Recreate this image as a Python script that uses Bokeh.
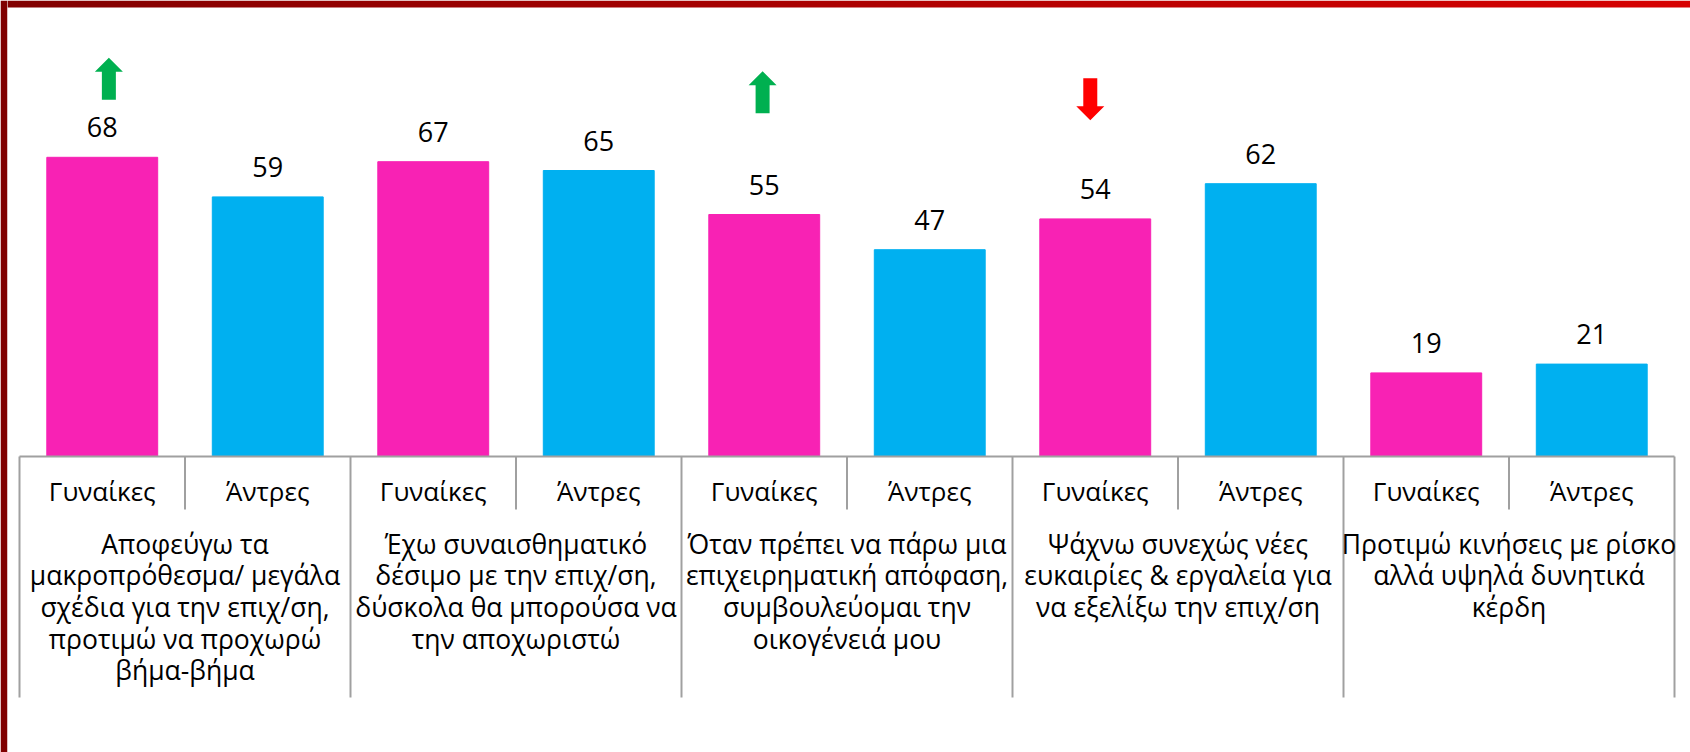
import numpy as np
from bokeh.plotting import figure
from bokeh.models import ColumnDataSource, Range1d
from bokeh.core.properties import value
from bokeh.embed import file_html
from bokeh.resources import INLINE

# ---------------- data ----------------
groups = [
    "Αποφεύγω τα\nμακροπρόθεσμα/ μεγάλα\nσχέδια για την επιχ/ση,\nπροτιμώ να προχωρώ\nβήμα-βήμα",
    "Έχω συναισθηματικό\nδέσιμο με την επιχ/ση,\nδύσκολα θα μπορούσα να\nτην αποχωριστώ",
    "Όταν πρέπει να πάρω μια\nεπιχειρηματική απόφαση,\nσυμβουλεύομαι την\nοικογένειά μου",
    "Ψάχνω συνεχώς νέες\nευκαιρίες & εργαλεία για\nνα εξελίξω την επιχ/ση",
    "Προτιμώ κινήσεις με ρίσκο\nαλλά υψηλά δυνητικά\nκέρδη",
]
genders = ["Γυναίκες", "Άντρες"]
women = [68, 67, 55, 54, 19]
men = [59, 65, 47, 62, 21]

# change markers (arrows): position along x (in bar slots), bottom level, direction
arrow_x = [0.54, 4.49, 6.47]
arrow_low = [81.1, 78.0, 76.4]
arrow_dir = ["up", "up", "down"]

# ---------------- styling / layout ----------------
PINK = "#F822B4"
BLUE = "#00B0F0"
GREEN = "#00B050"
RED = "#FF0000"
GRID = "#a0a0a0"
FONT = "Open Sans"

W, H = 1690, 752
PX_X = 165.5     # pixels per bar slot
PX_Y = 4.4       # pixels per value unit
ZERO_Y = 456     # y of value 0
LEFT_X = 19      # x of first slot edge
BORDER = 7

def dx(px):
    return px / PX_X

def dy(px):
    return px / PX_Y

x_start = (BORDER - LEFT_X) / PX_X
x_end = (W - LEFT_X) / PX_X
y_top = ZERO_Y / PX_Y
y_bot = (ZERO_Y - H) / PX_Y

p = figure(width=W, height=H, output_backend="svg", toolbar_location=None,
           x_range=Range1d(x_start, x_end), y_range=Range1d(y_bot, y_top),
           x_axis_location=None, y_axis_location=None,
           min_border_left=BORDER, min_border_right=0, min_border_top=0, min_border_bottom=0,
           border_fill_color="#800000", background_fill_color="white",
           outline_line_color=None)
p.grid.visible = False

# top red gradient strip
N = 256
img = np.empty((1, N), dtype=np.uint32)
view = img.view(dtype=np.uint8).reshape((1, N, 4))
view[0, :, 0] = np.linspace(130, 215, N).astype(np.uint8)
view[0, :, 1] = 0
view[0, :, 2] = 0
view[0, :, 3] = 255
p.image_rgba(image=[img], x=x_start, y=y_top - dy(BORDER), dw=x_end - x_start, dh=dy(BORDER))

# bars
n = len(groups)
bx, bv, bc, bl = [], [], [], []
for g in range(n):
    for k, (vals, col) in enumerate(((women, PINK), (men, BLUE))):
        bx.append(2 * g + k + 0.5)
        bv.append(vals[g])
        bc.append(col)
        bl.append(genders[k])
src = ColumnDataSource(dict(x=bx, top=bv, color=bc, lab=[str(v) for v in bv], sub=bl))
p.vbar(x="x", top="top", bottom=0, width=0.67, color="color", source=src)

# value labels
p.text(x="x", y="top", text="lab", source=src, text_align="center",
       text_baseline="alphabetic", y_offset=-30, text_font=value(FONT),
       text_font_size="27px", text_color="black")

# axis table lines
total = 2 * n
p.segment(x0=[0], y0=[0], x1=[total], y1=[0], line_color=GRID, line_width=2)
gx = [2 * g for g in range(n + 1)]
p.segment(x0=gx, y0=[0] * len(gx), x1=gx, y1=[-dy(697 - ZERO_Y)] * len(gx),
          line_color=GRID, line_width=2)
sx = [2 * g + 1 for g in range(n)]
p.segment(x0=sx, y0=[0] * len(sx), x1=sx, y1=[-dy(509 - ZERO_Y)] * len(sx),
          line_color=GRID, line_width=2)

# sub-category labels
p.text(x="x", y=0, text="sub", source=src, text_align="center",
       text_baseline="alphabetic", y_offset=34, text_font=value(FONT),
       text_font_size="26px", text_color="black")

# group labels (one row per line)
lx, lt, lo = [], [], []
for g, lab in enumerate(groups):
    for i, line in enumerate(lab.split("\n")):
        lx.append(2 * g + 1)
        lt.append(line)
        lo.append(87 + 31.7 * i)
p.text(x=lx, y=[0] * len(lx), text=lt, y_offset=lo, text_align="center",
       text_baseline="alphabetic", text_font=value(FONT), text_font_size="26.5px",
       text_color="black")

# arrows
up_shape = [(-7, 0), (7, 0), (7, 28), (14, 28), (0, 42), (-14, 28), (-7, 28)]
down_shape = [(0, 0), (14, 14), (7, 14), (7, 42), (-7, 42), (-7, 14), (-14, 14)]
axs, ays, acol = [], [], []
for cx, low, d in zip(arrow_x, arrow_low, arrow_dir):
    shape = up_shape if d == "up" else down_shape
    axs.append([cx + dx(a) for a, b in shape])
    ays.append([low + dy(b) for a, b in shape])
    acol.append(GREEN if d == "up" else RED)
p.patches(xs=axs, ys=ays, fill_color=acol, line_color=None)

open("out.html", "w").write(file_html(p, INLINE))
